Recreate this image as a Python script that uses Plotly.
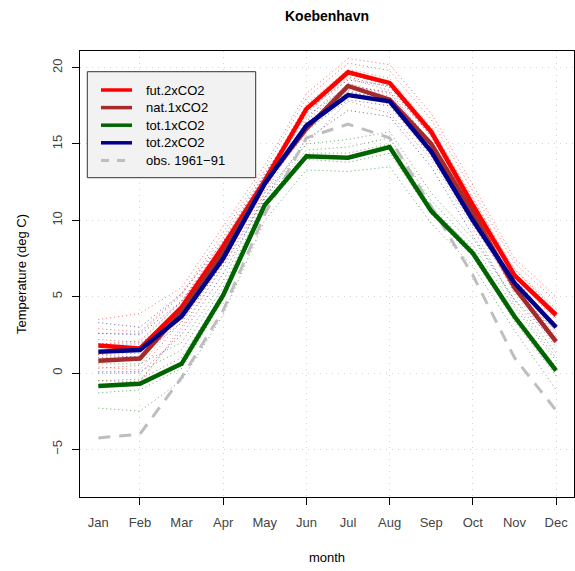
import plotly.graph_objects as go

months = ["Jan", "Feb", "Mar", "Apr", "May", "Jun", "Jul", "Aug", "Sep", "Oct", "Nov", "Dec"]
month_num = list(range(1, 13))

# ensemble-mean series (deg C)
fut_2xco2 = [1.8, 1.6, 4.3, 8.3, 12.6, 17.3, 19.7, 19.0, 15.8, 11.0, 6.4, 3.8]
nat_1xco2 = [0.8, 0.95, 4.0, 7.9, 12.5, 16.0, 18.8, 17.9, 15.0, 10.5, 5.6, 2.05]
tot_1xco2 = [-0.85, -0.7, 0.6, 5.1, 11.0, 14.2, 14.1, 14.8, 10.6, 7.85, 3.7, 0.15]
tot_2xco2 = [1.4, 1.5, 3.7, 7.5, 12.4, 16.2, 18.2, 17.8, 14.5, 10.0, 5.9, 3.0]
obs_1961_91 = [-4.25, -4.0, -0.3, 4.1, 10.4, 15.4, 16.3, 15.4, 10.9, 6.4, 1.0, -2.45]

# individual ensemble members (dotted thin lines)
fut_members = [
    [3.5, 3.9, 5.6, 9.6, 13.6, 18.3, 20.6, 20.2, 17.0, 12.3, 7.5, 5.0],
    [2.9, 2.7, 5.2, 9.2, 13.3, 18.0, 20.3, 19.8, 16.6, 11.9, 7.2, 4.7],
    [2.2, 2.0, 4.7, 8.7, 12.9, 17.6, 19.9, 19.3, 16.1, 11.4, 6.8, 4.2],
    [1.2, 1.0, 3.9, 7.9, 12.4, 17.0, 19.4, 18.7, 15.5, 10.7, 6.1, 3.5],
    [0.4, 0.2, 3.4, 7.4, 12.0, 16.5, 18.9, 18.3, 15.1, 10.3, 5.6, 3.0],
    [-0.5, -0.6, 3.0, 7.0, 11.8, 16.2, 18.6, 18.0, 14.8, 10.0, 5.3, 2.8],
]
nat_members = [
    [2.6, 2.6, 5.1, 8.9, 13.1, 17.0, 19.6, 18.8, 16.0, 11.5, 6.6, 3.6],
    [1.9, 2.1, 4.7, 8.5, 12.9, 16.6, 19.3, 18.5, 15.6, 11.1, 6.2, 3.0],
    [1.2, 1.3, 4.3, 8.1, 12.6, 16.2, 19.0, 18.1, 15.2, 10.7, 5.8, 2.4],
    [0.3, 0.5, 3.7, 7.6, 12.3, 15.7, 18.5, 17.6, 14.7, 10.2, 5.2, 1.7],
    [-0.8, -0.5, 2.8, 7.0, 11.5, 15.0, 17.8, 17.0, 14.0, 9.5, 4.5, 1.0],
]
tot2_members = [
    [3.3, 3.0, 5.2, 8.6, 13.0, 17.2, 19.2, 18.8, 15.5, 11.0, 6.8, 4.0],
    [2.6, 2.5, 4.7, 8.2, 12.8, 16.8, 18.8, 18.4, 15.1, 10.6, 6.4, 3.6],
    [1.9, 1.9, 4.1, 7.8, 12.5, 16.4, 18.4, 18.0, 14.7, 10.2, 6.0, 3.2],
    [1.0, 1.1, 3.3, 7.2, 12.2, 15.9, 17.9, 17.5, 14.2, 9.7, 5.5, 2.7],
    [0.0, 0.0, 2.5, 6.5, 11.5, 15.3, 17.2, 16.8, 13.5, 9.0, 4.8, 2.0],
]
tot1_members = [
    [0.6, 0.6, 2.0, 6.0, 11.8, 15.0, 15.3, 15.8, 11.8, 8.8, 4.8, 1.3],
    [0.1, 0.1, 1.5, 5.6, 11.4, 14.6, 14.8, 15.4, 11.3, 8.4, 4.3, 0.8],
    [-0.5, -0.4, 1.0, 5.3, 11.2, 14.4, 14.4, 15.0, 10.9, 8.1, 3.9, 0.4],
    [-1.3, -1.1, 0.3, 4.8, 10.8, 14.0, 13.8, 14.4, 10.4, 7.6, 3.4, -0.2],
    [-2.3, -2.5, -0.5, 3.8, 10.0, 13.3, 13.2, 13.5, 9.8, 7.0, 2.8, -1.1],
]

series = [
    ("fut.2xCO2", fut_2xco2, fut_members, "#FF0000", "rgba(255,0,0,0.6)"),
    ("nat.1xCO2", nat_1xco2, nat_members, "#A52A2A", "rgba(165,42,42,0.6)"),
    ("tot.1xCO2", tot_1xco2, tot1_members, "#006400", "rgba(0,100,0,0.6)"),
    ("tot.2xCO2", tot_2xco2, tot2_members, "#00008B", "rgba(0,0,139,0.6)"),
]
obs_name = "obs. 1961\u221291"
obs_color = "#BEBEBE"
obs_dash = "12px,9px"

fig = go.Figure()

# ensemble members first
for name, mean, members, col, mcol in series:
    for m in members:
        fig.add_trace(go.Scatter(x=month_num, y=m, mode="lines",
                                 line=dict(color=mcol, width=1, dash="1px,3px"),
                                 showlegend=False, hoverinfo="skip"))

# observations
fig.add_trace(go.Scatter(x=month_num, y=obs_1961_91, mode="lines", name=obs_name,
                         line=dict(color=obs_color, width=3, dash=obs_dash),
                         showlegend=False))

# thick means
for name, mean, members, col, mcol in series:
    fig.add_trace(go.Scatter(x=month_num, y=mean, mode="lines", name=name,
                             line=dict(color=col, width=4.5), showlegend=False))

# dummy trace for the label axis
fig.add_trace(go.Scatter(x=[1], y=[0], xaxis="x2", mode="markers",
                         marker=dict(opacity=0), showlegend=False, hoverinfo="skip"))

font = "Liberation Sans, Arial, Helvetica, sans-serif"
xr = [0.56, 12.43]
yr = [-8.12, 21.09]

# plot-area pixel geometry (for the hand-drawn legend box)
L, T, W, H = 80, 51, 494, 446


def px(xp):
    return (xp - L) / W


def py(yp):
    return (T + H - yp) / H


shapes = [dict(type="rect", xref="paper", yref="paper",
               x0=px(87.3), x1=px(255.7), y0=py(177.7), y1=py(71.7),
               fillcolor="#F2F2F2", line=dict(color="#333333", width=1), layer="above")]
annotations = []
legend_items = [(s[0], s[3], 3.5, None) for s in series]
legend_items.append((obs_name, obs_color, 3, "8px,8px"))
rows = [90, 107.6, 125.2, 142.8, 160.4]
for (name, col, w, dash), yrow in zip(legend_items, rows):
    ln = dict(color=col, width=w)
    if dash:
        ln["dash"] = dash
    shapes.append(dict(type="line", xref="paper", yref="paper",
                       x0=px(101), x1=px(132), y0=py(yrow), y1=py(yrow),
                       line=ln, layer="above"))
    annotations.append(dict(text=name, xref="paper", yref="paper",
                            x=px(144), y=py(yrow), xanchor="left", yanchor="middle",
                            showarrow=False, font=dict(size=13, color="black")))

fig.update_layout(
    width=575, height=571,
    margin=dict(l=80, r=1, t=51, b=74),
    paper_bgcolor="white", plot_bgcolor="white",
    font=dict(family=font, size=13, color="black"),
    title=dict(text="<b>Koebenhavn</b>", x=327 / 575, xanchor="center",
               y=1 - 16 / 571, yanchor="middle", yref="container",
               font=dict(size=14, color="black")),
    showlegend=False,
    shapes=shapes,
    annotations=annotations,
    xaxis=dict(range=xr, tickvals=[2, 4, 6, 8, 10, 12], ticktext=[""] * 6,
               ticks="outside", ticklen=7, tickcolor="black",
               showgrid=True, gridcolor="#D3D3D3", griddash="1px,5px", gridwidth=1,
               showline=True, linecolor="black", linewidth=1, mirror=True,
               zeroline=False,
               title=dict(text="month", font=dict(size=13, color="black"), standoff=46)),
    xaxis2=dict(range=xr, overlaying="x", anchor="y", side="bottom",
                tickvals=month_num, ticktext=months, ticks="", showgrid=False,
                zeroline=False, showline=False,
                tickfont=dict(size=13, color="#444444"), ticklabelstandoff=16),
    yaxis=dict(range=yr, tickvals=[-5, 0, 5, 10, 15, 20], tickangle=-90,
               ticks="outside", ticklen=7, tickcolor="black",
               tickfont=dict(size=13, color="#444444"), ticklabelstandoff=5,
               showgrid=True, gridcolor="#D3D3D3", griddash="1px,5px", gridwidth=1,
               showline=True, linecolor="black", linewidth=1, mirror=True,
               zeroline=False,
               title=dict(text="Temperature (deg C)", font=dict(size=13, color="black"),
                          standoff=20)),
)

fig.write_html("out.html")
